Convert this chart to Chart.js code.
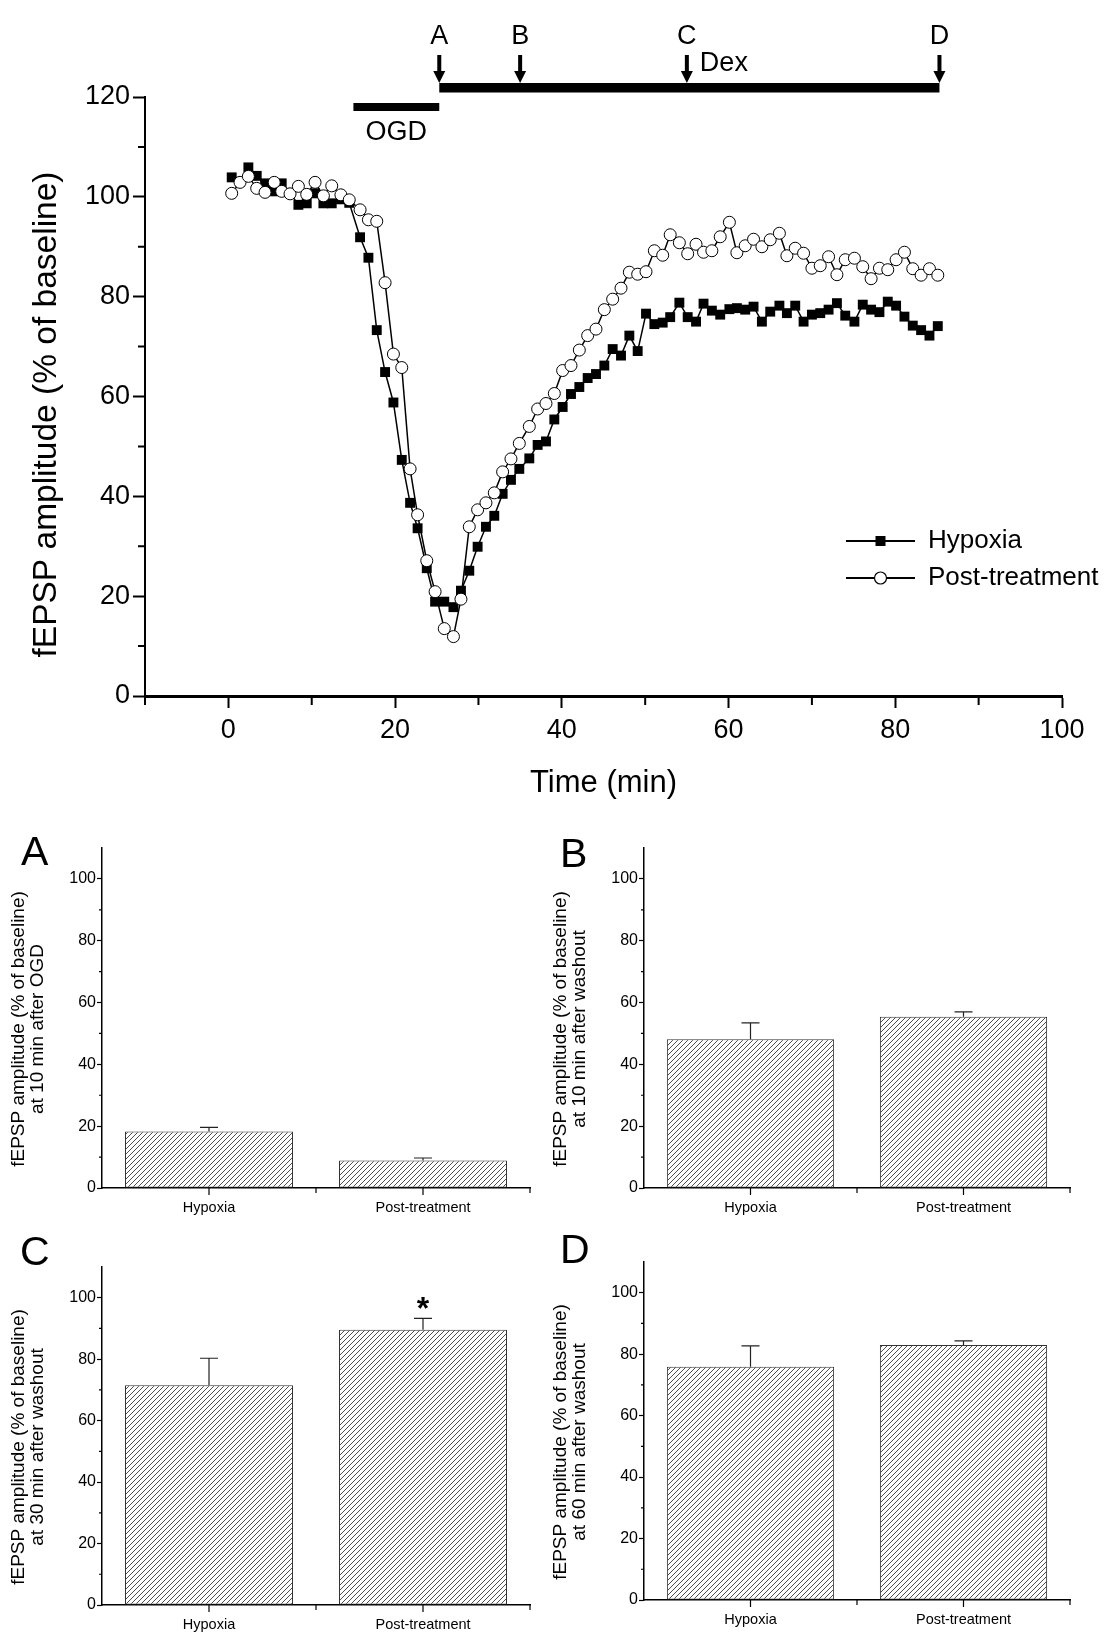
<!DOCTYPE html>
<html><head><meta charset="utf-8">
<script src="https://cdn.jsdelivr.net/npm/chart.js@4.4.1/dist/chart.umd.min.js"></script>
<style>
html,body{margin:0;padding:0;background:#fff;}
body{width:1107px;height:1649px;position:relative;overflow:hidden;}
canvas{position:absolute;}
</style></head><body>
<canvas id="main" width="1107" height="800" style="left:0;top:0;width:1107px;height:800px"></canvas>
<canvas id="pA" width="553" height="420" style="left:0;top:800px;width:553px;height:420px"></canvas>
<canvas id="pB" width="554" height="420" style="left:553px;top:800px;width:554px;height:420px"></canvas>
<canvas id="pC" width="553" height="429" style="left:0;top:1220px;width:553px;height:429px"></canvas>
<canvas id="pD" width="554" height="429" style="left:553px;top:1220px;width:554px;height:429px"></canvas>
<script>
// ---------- data ----------
const TIME = [0.4,1.4,2.4,3.4,4.4,5.5,6.4,7.4,8.4,9.4,10.4,11.4,12.4,13.5,14.5,
  15.8,16.8,17.8,18.8,19.8,20.8,21.8,22.7,23.8,24.8,25.9,27.0,27.9,28.9,29.9,30.9,31.9,32.9,33.9,34.9,
  36.1,37.1,38.1,39.1,40.1,41.1,42.1,43.1,44.1,45.1,46.1,47.1,48.1,49.1,50.1,51.1,52.1,53.0,54.1,55.1,56.1,
  57.0,58.0,59.0,60.1,61.0,62.0,63.0,64.0,65.0,66.1,67.0,68.0,69.0,70.0,71.0,72.0,73.0,74.0,
  75.1,76.1,77.1,78.1,79.1,80.1,81.1,82.1,83.1,84.1,85.1];
const HYPOXIA = [103.9,103.0,105.9,104.2,102.7,101.1,102.7,100.8,98.4,98.7,100.7,98.7,98.7,99.5,98.8,
  91.9,87.8,73.3,64.9,58.8,47.3,38.7,33.6,25.6,18.9,18.9,17.8,21.1,25.1,29.9,33.9,36.1,40.5,43.3,45.5,
  47.6,50.3,51.0,55.4,57.9,60.5,61.9,63.7,64.5,66.2,69.5,68.2,72.2,69.1,76.6,74.5,74.8,75.9,78.8,75.9,75.0,
  78.6,77.2,76.4,77.5,77.7,77.4,78.0,75.0,77.0,78.2,76.7,78.2,75.0,76.4,76.7,77.4,78.7,76.2,
  75.0,78.4,77.4,76.9,79.0,78.2,76.0,74.2,73.3,72.2,74.1];
const POST = [100.7,102.9,104.1,101.7,100.9,102.9,101.1,100.6,102.1,100.5,102.9,100.2,102.2,100.4,99.4,
  97.4,95.4,95.1,82.8,68.5,65.8,45.5,36.3,27.1,20.9,13.5,11.9,19.4,33.9,37.3,38.7,40.7,44.9,47.5,50.6,
  54.0,57.5,58.6,60.6,65.2,66.2,69.3,72.2,73.5,77.4,79.5,81.7,84.9,84.5,85.0,89.2,88.3,92.4,90.8,88.6,90.5,
  88.9,89.2,92.0,94.9,88.8,90.2,91.5,90.0,91.4,92.7,88.2,89.7,88.7,85.7,86.2,88.0,84.4,87.4,
  87.7,86.0,83.6,85.7,85.4,87.4,88.9,85.6,84.3,85.6,84.3];

const MAIN_X_LABELS = [0,20,40,60,80,100];
const MAIN_Y_LABELS = [0,20,40,60,80,100,120];
const OGD_PERIOD = [15.0, 25.3];
const DEX_PERIOD = [25.3, 85.3];
const ARROW_TIMES = [25.3, 35.0, 55.0, 85.3];
const ARROW_NAMES = ['A','B','C','D'];

const CATS = ['Hypoxia', 'Post-treatment'];
const BAR_Y_LABELS = [0,20,40,60,80,100];
const A_MEAN = [18.3, 8.9],  A_SEM = [1.3, 0.8];
const B_MEAN = [48.1, 55.4], B_SEM = [5.3, 1.6];
const C_MEAN = [71.5, 89.6], C_SEM = [8.8, 3.7];
const D_MEAN = [75.9, 83.0], D_SEM = [6.8, 1.3];

// ---------- setup ----------
const FONT = "'Liberation Sans', Arial, sans-serif";
Chart.defaults.font.family = FONT;
Chart.defaults.color = '#000';

function minorTicks(ctx, scale, values, len, horizontal, width) {
  ctx.save();
  ctx.strokeStyle = '#000'; ctx.lineWidth = width;
  ctx.beginPath();
  values.forEach(v => {
    const p = scale.getPixelForValue(v);
    if (horizontal) { ctx.moveTo(p, scale.top); ctx.lineTo(p, scale.top + len); }
    else { ctx.moveTo(scale.right, p); ctx.lineTo(scale.right - len, p); }
  });
  ctx.stroke(); ctx.restore();
}
function vText(ctx, text, x, y, font) {
  ctx.save(); ctx.font = font; ctx.fillStyle = '#000';
  ctx.translate(x, y); ctx.rotate(-Math.PI / 2);
  ctx.textAlign = 'center'; ctx.textBaseline = 'middle';
  ctx.fillText(text, 0, 0); ctx.restore();
}

// ---------- main chart ----------
const mainDeco = {
  id: 'mainDeco',
  afterDraw(chart) {
    const ctx = chart.ctx, xs = chart.scales.x, ys = chart.scales.y, ca = chart.chartArea;
    const xm = []; for (let v = -10; v <= 100; v += 10) if (!MAIN_X_LABELS.includes(v)) xm.push(v);
    const ym = []; for (let v = 0; v <= 120; v += 10) if (!MAIN_Y_LABELS.includes(v)) ym.push(v);
    minorTicks(ctx, xs, xm, 9, true, 2);
    minorTicks(ctx, ys, ym, 7, false, 2);
    ctx.save();
    ctx.fillStyle = '#000';
    const o0 = xs.getPixelForValue(OGD_PERIOD[0]), o1 = xs.getPixelForValue(OGD_PERIOD[1]);
    ctx.fillRect(o0, ca.top + 6, o1 - o0, 8);
    const d0 = xs.getPixelForValue(DEX_PERIOD[0]), d1 = xs.getPixelForValue(DEX_PERIOD[1]);
    ctx.fillRect(d0, ca.top - 14, d1 - d0, 9.5);
    ctx.font = '27px ' + FONT; ctx.textAlign = 'center'; ctx.textBaseline = 'alphabetic';
    ARROW_TIMES.forEach((t, i) => {
      const x = xs.getPixelForValue(t);
      ctx.fillRect(x - 2, ca.top - 42, 4, 18);
      ctx.beginPath(); ctx.moveTo(x - 6, ca.top - 26); ctx.lineTo(x + 6, ca.top - 26); ctx.lineTo(x, ca.top - 14); ctx.closePath(); ctx.fill();
      ctx.fillText(ARROW_NAMES[i], x, ca.top - 53);
    });
    ctx.textAlign = 'left'; ctx.textBaseline = 'middle';
    ctx.fillText('Dex', xs.getPixelForValue(ARROW_TIMES[2]) + 13, ca.top - 33);
    ctx.textAlign = 'center';
    ctx.fillText('OGD', (o0 + o1) / 2, ca.top + 36);
    // legend
    ctx.font = '26px ' + FONT; ctx.textAlign = 'left'; ctx.textBaseline = 'middle';
    ctx.strokeStyle = '#000'; ctx.lineWidth = 2;
    const lx0 = 846, lx1 = 915, lxc = 880.5, tx = 928;
    [[541, 'Hypoxia', 'rect'], [578, 'Post-treatment', 'circle']].forEach(([y, label, st]) => {
      ctx.beginPath(); ctx.moveTo(lx0, y); ctx.lineTo(lx1, y); ctx.stroke();
      if (st === 'rect') { ctx.fillStyle = '#000'; ctx.fillRect(lxc - 5, y - 5, 10, 10); }
      else { ctx.beginPath(); ctx.arc(lxc, y, 6, 0, 2 * Math.PI); ctx.fillStyle = '#fff'; ctx.fill(); ctx.lineWidth = 1.2; ctx.stroke(); ctx.lineWidth = 2; }
      ctx.fillStyle = '#000'; ctx.fillText(label, tx, y);
    });
    ctx.restore();
    vText(ctx, 'fEPSP amplitude (% of baseline)', 47, (ca.top + ca.bottom) / 2 + 18, '33.5px ' + FONT);
    ctx.save(); ctx.font = '31px ' + FONT; ctx.fillStyle = '#000'; ctx.textAlign = 'center'; ctx.textBaseline = 'middle';
    ctx.fillText('Time (min)', (ca.left + ca.right) / 2, 783); ctx.restore();
  }
};

new Chart(document.getElementById('main'), {
  type: 'line',
  data: {
    datasets: [
      { label: 'Post-treatment', data: TIME.map((t, i) => ({ x: t, y: POST[i] })), order: 0,
        borderColor: '#000', borderWidth: 1.5, pointStyle: 'circle', pointRadius: 6,
        pointBackgroundColor: '#fff', pointBorderColor: '#000', pointBorderWidth: 1, tension: 0 },
      { label: 'Hypoxia', data: TIME.map((t, i) => ({ x: t, y: HYPOXIA[i] })), order: 1,
        borderColor: '#000', borderWidth: 1.5, pointStyle: 'rect', pointRadius: 7,
        pointBackgroundColor: '#000', pointBorderColor: '#000', pointBorderWidth: 0, tension: 0 }
    ]
  },
  options: {
    responsive: false, animation: false, devicePixelRatio: 1,
    layout: { padding: { left: 0, top: 97, right: 45, bottom: 0 } },
    plugins: { legend: { display: false }, tooltip: { enabled: false } },
    scales: {
      x: {
        type: 'linear', min: -10, max: 100,
        afterFit: s => { s.height = 104; },
        ticks: { stepSize: 10, autoSkip: false, maxRotation: 0, padding: 6, font: { size: 27 },
          callback: v => MAIN_X_LABELS.includes(v) ? String(v) : '' },
        grid: { display: true, drawOnChartArea: false, drawTicks: true, tickLength: 12, tickWidth: 2,
          tickColor: c => (c.tick && MAIN_X_LABELS.includes(c.tick.value)) ? '#000' : 'rgba(0,0,0,0)' },
        border: { display: true, color: '#000', width: 3 }
      },
      y: {
        type: 'linear', min: 0, max: 120,
        afterFit: s => { s.width = 145; },
        ticks: { stepSize: 10, autoSkip: false, padding: 3, font: { size: 27 },
          callback: v => MAIN_Y_LABELS.includes(v) ? String(v) : '' },
        grid: { display: true, drawOnChartArea: false, drawTicks: true, tickLength: 12, tickWidth: 2,
          tickColor: c => (c.tick && MAIN_Y_LABELS.includes(c.tick.value)) ? '#000' : 'rgba(0,0,0,0)' },
        border: { display: true, color: '#000', width: 2 }
      }
    }
  },
  plugins: [mainDeco]
});

// ---------- bar panels ----------
function hatchPattern(ctx) {
  const s = 5, c = document.createElement('canvas'); c.width = s; c.height = s;
  const g = c.getContext('2d');
  g.fillStyle = '#fff'; g.fillRect(0, 0, s, s);
  g.strokeStyle = '#3a3a3a'; g.lineWidth = 0.9;
  g.beginPath();
  g.moveTo(-1, s + 1); g.lineTo(s + 1, -1);
  g.moveTo(-1, 1); g.lineTo(1, -1);
  g.moveTo(s - 1, s + 1); g.lineTo(s + 1, s - 1);
  g.stroke();
  return ctx.createPattern(c, 'repeat');
}

function makeBar(id, W, H, area, means, sems, letter, title2, star) {
  const cv = document.getElementById(id);
  const pattern = hatchPattern(cv.getContext('2d'));
  const deco = {
    id: 'deco_' + id,
    afterDatasetsDraw(chart) {
      const ctx = chart.ctx, ys = chart.scales.y;
      const meta = chart.getDatasetMeta(0);
      ctx.save(); ctx.strokeStyle = '#222'; ctx.lineWidth = 1.2;
      meta.data.forEach((bar, i) => {
        const top = ys.getPixelForValue(means[i] + sems[i]);
        ctx.beginPath();
        ctx.moveTo(bar.x, bar.y); ctx.lineTo(bar.x, top);
        ctx.moveTo(bar.x - 9, top); ctx.lineTo(bar.x + 9, top);
        ctx.stroke();
      });
      ctx.restore();
      if (star) {
        const bar = meta.data[1];
        const top = ys.getPixelForValue(means[1] + sems[1]);
        ctx.save(); ctx.font = 'bold 32px ' + FONT; ctx.fillStyle = '#000'; ctx.textAlign = 'center'; ctx.textBaseline = 'alphabetic';
        ctx.fillText('*', bar.x, top + 1); ctx.restore();
      }
    },
    afterDraw(chart) {
      const ctx = chart.ctx, ys = chart.scales.y, xs = chart.scales.x, ca = chart.chartArea;
      const ym = []; for (let v = 10; v <= 90; v += 20) ym.push(v);
      minorTicks(ctx, ys, ym, 3, false, 1.2);
      ctx.save(); ctx.strokeStyle = '#000'; ctx.lineWidth = 1.2; ctx.beginPath();
      CATS.forEach((c, i) => { const p = xs.getPixelForValue(i); ctx.moveTo(p, ca.bottom); ctx.lineTo(p, ca.bottom + 7); });
      const mid = (xs.getPixelForValue(0) + xs.getPixelForValue(1)) / 2;
      [mid, ca.right].forEach(p => { ctx.moveTo(p, ca.bottom); ctx.lineTo(p, ca.bottom + 5); });
      ctx.stroke(); ctx.restore();
      ctx.save(); ctx.font = '41px ' + FONT; ctx.fillStyle = '#000'; ctx.textAlign = 'left'; ctx.textBaseline = 'alphabetic';
      ctx.fillText(letter.t, letter.x, letter.y); ctx.restore();
      const cy = (ca.top + ca.bottom) / 2 + 11;
      vText(ctx, 'fEPSP amplitude (% of baseline)', ca.left - 83, cy, '19px ' + FONT);
      vText(ctx, title2, ca.left - 64, cy, '19px ' + FONT);
    }
  };
  new Chart(cv, {
    type: 'bar',
    data: { labels: CATS, datasets: [{ data: means, backgroundColor: pattern, borderColor: '#333', borderWidth: 1, borderSkipped: false,
      barPercentage: 0.785, categoryPercentage: 1.0 }] },
    options: {
      responsive: false, animation: false, devicePixelRatio: 1,
      layout: { padding: { left: 0, top: area.top, right: W - area.right, bottom: 0 } },
      plugins: { legend: { display: false }, tooltip: { enabled: false } },
      scales: {
        x: {
          afterFit: s => { s.height = H - area.bottom; },
          ticks: { padding: 11, font: { size: 14.5 }, maxRotation: 0, autoSkip: false },
          grid: { display: false, drawTicks: false },
          border: { display: true, color: '#000', width: 1.5 }
        },
        y: {
          min: 0, max: 110,
          afterFit: s => { s.width = area.left; },
          ticks: { stepSize: 10, autoSkip: false, padding: 1, font: { size: 16 },
            callback: v => BAR_Y_LABELS.includes(v) ? String(v) : '' },
          grid: { display: true, drawOnChartArea: false, drawTicks: true, tickLength: 5, tickWidth: 1.2,
            tickColor: c => (c.tick && BAR_Y_LABELS.includes(c.tick.value)) ? '#000' : 'rgba(0,0,0,0)' },
          border: { display: true, color: '#000', width: 1.5 }
        }
      }
    },
    plugins: [deco]
  });
}

makeBar('pA', 553, 420, { left: 102, right: 530, top: 48, bottom: 388 }, A_MEAN, A_SEM, { t: 'A', x: 21, y: 65 }, 'at 10 min after OGD', false);
makeBar('pB', 554, 420, { left: 91, right: 517, top: 48, bottom: 388 }, B_MEAN, B_SEM, { t: 'B', x: 7, y: 67 }, 'at 10 min after washout', false);
makeBar('pC', 553, 429, { left: 102, right: 530, top: 47, bottom: 385 }, C_MEAN, C_SEM, { t: 'C', x: 20, y: 45 }, 'at 30 min after washout', true);
makeBar('pD', 554, 429, { left: 91, right: 517, top: 42, bottom: 380 }, D_MEAN, D_SEM, { t: 'D', x: 7, y: 43 }, 'at 60 min after washout', false);
</script>
</body></html>
